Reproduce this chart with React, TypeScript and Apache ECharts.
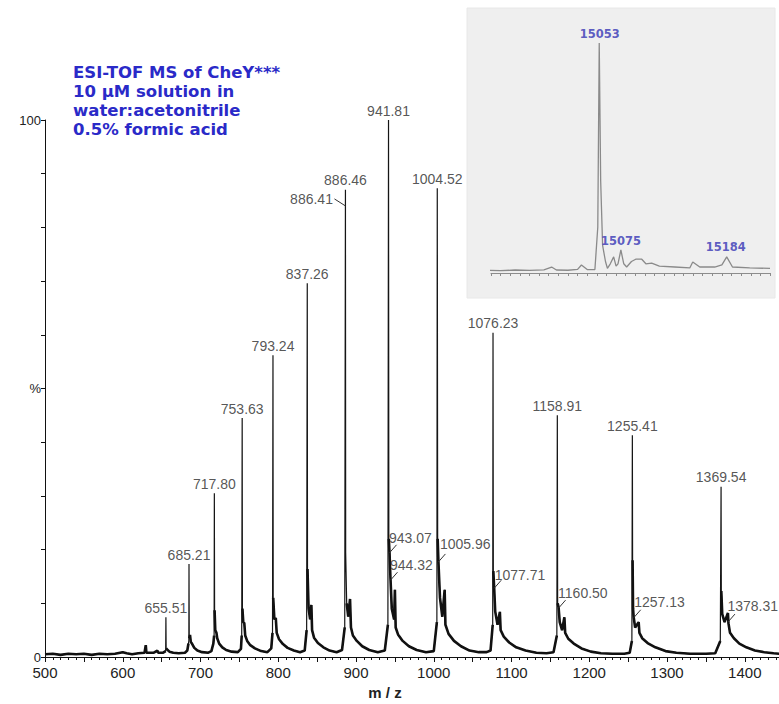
import React, { useEffect, useRef } from "react";
import * as echarts from "echarts";

// ---------- main spectrum (m/z, relative intensity %) ----------
const baseline: [number, number][] = [
  [500, 0.5], [510, 0.6], [520, 0.4], [530, 0.6], [540, 0.5], [550, 0.6], [560, 0.4], [570, 0.6],
  [580, 0.5], [590, 0.6], [600, 0.9], [605, 0.7], [612, 0.5], [620, 0.7], [628, 0.8], [629.6, 2.2],
  [630.4, 0.8], [640, 0.8], [644.6, 1.2], [645.4, 0.8], [652, 0.8],
];
const cluster655: [number, number][] = [
  [655.2, 1.1], [655.5, 7.4], [655.8, 1.6], [657, 1.4], [660, 1.0], [665, 0.8], [672, 0.7], [680, 0.8], [683, 1.2],
];
const cluster685: [number, number][] = [
  [684.5, 2.5], [685.0, 3.0], [685.2, 17.3], [685.5, 3.5], [686.5, 4.1], [687.5, 2.8], [689, 2.5],
  [692, 1.7], [696, 1.2], [702, 0.9], [710, 0.8], [714, 1.1],
];
const cluster718: [number, number][] = [
  [716.5, 2.5], [717.5, 4.0], [717.8, 30.5], [718.1, 8.7], [719, 5.0], [720.5, 4.5], [721.5, 3.5],
  [724, 2.5], [728, 1.8], [733, 1.3], [740, 1.0], [748, 0.9], [752, 1.5],
];
const cluster754: [number, number][] = [
  [753, 4.0], [753.6, 44.5], [753.9, 9.0], [755, 6.5], [756.3, 6.3], [757.5, 4.0], [760, 3.0],
  [764, 2.2], [770, 1.6], [778, 1.1], [786, 0.9], [791, 1.6],
];
const cluster793: [number, number][] = [
  [792.6, 4.5], [793.2, 56.2], [793.5, 11.0], [795, 7.0], [796.8, 7.3], [798, 4.5], [801, 3.3],
  [806, 2.4], [812, 1.7], [820, 1.2], [828, 0.9], [834, 1.2], [836.5, 5.0],
];
const cluster837: [number, number][] = [
  [837.3, 69.6], [837.6, 16.4], [839, 9.0], [841, 7.0], [842.6, 9.7], [843.5, 5.0], [846, 3.6],
  [851, 2.6], [858, 1.8], [866, 1.2], [875, 0.9], [882, 1.3], [885.5, 5.5],
];
const cluster886: [number, number][] = [
  [886.4, 87.0], [886.7, 19.4], [888, 10.0], [890, 7.5], [892.3, 10.8], [893.5, 5.5], [896, 4.0],
  [901, 3.0], [908, 2.0], [917, 1.3], [928, 0.9], [937, 1.2], [941, 6.0],
];
const cluster942: [number, number][] = [
  [941.8, 100], [942.2, 22.0], [943.1, 19.4], [944.3, 14.7], [946, 9.0], [949, 7.0], [950, 12.5],
  [951, 5.5], [954, 4.2], [960, 3.0], [968, 2.0], [978, 1.3], [990, 0.9], [1000, 1.1], [1004, 6.5],
];
const cluster1005: [number, number][] = [
  [1004.5, 87.3], [1005, 22.0], [1006, 17.7], [1008, 11.0], [1011, 7.5], [1014, 12.5], [1015, 6.0],
  [1019, 4.3], [1026, 3.0], [1035, 2.0], [1046, 1.2], [1058, 0.9], [1068, 0.9], [1073, 1.2], [1075.8, 6.0],
];
const cluster1076: [number, number][] = [
  [1076.2, 60.4], [1076.6, 16.0], [1077.7, 12.8], [1079, 8.5], [1082, 6.0], [1085, 8.4], [1086, 5.0],
  [1090, 3.8], [1097, 2.7], [1106, 1.8], [1118, 1.2], [1132, 0.8], [1145, 0.7], [1154, 0.9], [1158.3, 4.0],
];
const cluster1159: [number, number][] = [
  [1158.9, 45.0], [1159.3, 10.0], [1160.5, 9.3], [1162, 6.5], [1165, 5.0], [1168, 7.4], [1169, 4.5],
  [1173, 3.4], [1180, 2.5], [1190, 1.6], [1202, 1.0], [1215, 0.7], [1230, 0.6], [1245, 0.6], [1252, 0.8], [1254.8, 3.0],
];
const cluster1255: [number, number][] = [
  [1255.4, 41.3], [1255.7, 18.0], [1256.3, 9.0], [1257.1, 7.4], [1259, 5.5], [1263.5, 6.5], [1264.5, 4.5],
  [1268, 3.5], [1275, 2.6], [1285, 1.8], [1298, 1.1], [1312, 0.8], [1330, 0.6], [1350, 0.6], [1362, 0.7], [1368.5, 3.0],
];
const cluster1370: [number, number][] = [
  [1369.5, 31.7], [1369.8, 12.3], [1371, 8.0], [1374, 6.5], [1378.3, 8.2], [1379, 6.3], [1381, 4.5],
  [1386, 3.5], [1393, 2.5], [1402, 1.8], [1413, 1.2], [1425, 0.9], [1437, 0.7], [1445, 0.6],
];

// labelled peaks (label text above the stick)
const topLabels = ["655.51", "685.21", "717.80", "753.63", "793.24", "837.26", "886.46", "941.81",
  "1004.52", "1076.23", "1158.91", "1255.41", "1369.54"];
const topLabelPct = [7.4, 17.3, 30.5, 44.5, 56.2, 69.6, 87.0, 100, 87.3, 60.4, 45.0, 41.3, 31.7];

// labelled shoulders (label beside the stick with a leader)
const sideLabels = ["886.41", "943.07", "944.32", "1005.96", "1077.71", "1160.50", "1257.13", "1378.31"];
const sideLabelPct = [84.0, 19.4, 14.3, 17.7, 12.8, 9.1, 7.3, 6.5];

// ---------- inset: deconvoluted mass spectrum ----------
const insetProfile: [number, number][] = [
  [14936, 1.2], [14950, 1.0], [14965, 1.3], [14980, 1.1], [14995, 1.4], [15003, 2.6], [15008, 1.3],
  [15020, 1.2], [15030, 1.6], [15034, 3.5], [15040, 1.5], [15048, 1.5], [15051, 20], [15052.5, 100],
  [15054, 40], [15056, 12], [15059, 5], [15061, 2], [15064, 4], [15067.5, 7], [15070, 3],
  [15072, 4], [15075, 10], [15078, 4], [15081, 2.6], [15086, 5], [15090.4, 6], [15096.7, 6],
  [15101, 4], [15107, 4.3], [15115, 3], [15131, 2.6], [15146.6, 2.2], [15149.7, 4.8], [15157, 2.6],
  [15172.5, 2.6], [15180, 3.5], [15185, 7], [15191, 2.6], [15209, 2.2], [15230, 2.0],
];
const insetLabels = ["15053", "15075", "15184"];
const insetLabelPct = [100, 10, 7];

const titleLines = [
  "ESI-TOF MS of CheY***",
  "10 \u00b5M solution in",
  "water:acetonitrile",
  "0.5% formic acid",
];

const FONT = "Liberation Sans, Arial, Helvetica, sans-serif";
const WIDE = "DejaVu Sans, Verdana, sans-serif";

// pixel offsets of side labels relative to the point they mark
const sideOffsets: Record<string, { dx: number; dy: number; left?: boolean }> = {
  "886.41": { dx: -12, dy: -6, left: true },
  "943.07": { dx: 0, dy: -14 },
  "944.32": { dx: 0, dy: -15 },
  "1005.96": { dx: 2, dy: -17 },
  "1077.71": { dx: 1, dy: -13 },
  "1160.50": { dx: 0, dy: -15 },
  "1257.13": { dx: 1, dy: -15 },
  "1378.31": { dx: 0, dy: -16 },
};

export default function App() {
  const ref = useRef<HTMLDivElement>(null);
  useEffect(() => {
    if (!ref.current) return;
    const chart = echarts.init(ref.current, null, { renderer: "svg" });
    const profile = [
      ...baseline, ...cluster655, ...cluster685, ...cluster718, ...cluster754, ...cluster793,
      ...cluster837, ...cluster886, ...cluster942, ...cluster1005, ...cluster1076, ...cluster1159,
      ...cluster1255, ...cluster1370,
    ];
    // the dense, noisy low-intensity part of the trace; the labelled sticks stay thin
    const stickMz = topLabels.map((t) => parseFloat(t));
    const lowTrace = profile.map(([m, p]) =>
      stickMz.some((s) => Math.abs(s - m) < 0.25) ? [m, "-"] : [m, p]
    );
    const topData = topLabels.map((t, i) => ({ value: [parseFloat(t), topLabelPct[i]], name: t }));
    const sideData = sideLabels.map((t, i) => {
      const o = sideOffsets[t];
      return {
        value: [parseFloat(t), sideLabelPct[i]],
        name: t,
        label: {
          position: [o.dx, o.dy] as [number, number],
          align: o.left ? "right" : "left",
          verticalAlign: "middle",
        },
      };
    });
    const leaderData = sideLabels.map((t, i) => [parseFloat(t), sideLabelPct[i]]);
    const insetData = insetLabels.map((t, i) => ({ value: [parseFloat(t), insetLabelPct[i]], name: t }));

    chart.setOption({
      animation: false,
      backgroundColor: "#ffffff",
      textStyle: { fontFamily: FONT },
      graphic: [
        {
          type: "rect",
          z: 0,
          shape: { x: 467, y: 8, width: 308, height: 290 },
          style: { fill: "#efefef", stroke: "#e8e8e8" },
        },
        {
          type: "text",
          z: 5,
          x: 73,
          y: 63,
          style: {
            text: titleLines.join("\n"),
            font: `bold 16.5px ${WIDE}`,
            fill: "#2a2ac8",
            lineHeight: 19,
          },
        },
      ],
      grid: [
        { left: 45, right: 0, top: 120, bottom: 47, outerBoundsMode: "none", containLabel: false },
        { left: 491, top: 43, width: 279, height: 230, outerBoundsMode: "none", containLabel: false },
      ],
      xAxis: [
        {
          type: "value",
          gridIndex: 0,
          min: 500,
          max: 1444,
          interval: 50,
          name: "m / z",
          nameLocation: "middle",
          nameGap: 27,
          nameTextStyle: {
            fontFamily: FONT,
            fontSize: 15,
            fontWeight: "bold",
            color: "#222",
            padding: [0, 54, 0, 0],
          },
          axisLine: { lineStyle: { color: "#111", width: 1 } },
          axisTick: { length: 5, lineStyle: { color: "#111" } },
          minorTick: { show: true, splitNumber: 5, length: 3, lineStyle: { color: "#111" } },
          splitLine: { show: false },
          axisLabel: {
            fontFamily: FONT,
            fontSize: 15,
            color: "#222",
            margin: 8,
            formatter: (v: number) => (v % 100 === 0 ? String(v) : ""),
          },
        },
        {
          type: "value",
          gridIndex: 1,
          min: 14940,
          max: 15230,
          interval: 10,
          axisLine: { lineStyle: { color: "#8c8c8c", width: 1 } },
          axisTick: { length: 3, inside: false, lineStyle: { color: "#8c8c8c" } },
          splitLine: { show: false },
          axisLabel: { show: false },
        },
      ],
      yAxis: [
        {
          type: "value",
          gridIndex: 0,
          min: 0,
          max: 100,
          interval: 10,
          axisLine: { show: true, lineStyle: { color: "#111", width: 1 } },
          axisTick: { show: true, length: 4, lineStyle: { color: "#111" } },
          splitLine: { show: false },
          axisLabel: {
            fontFamily: FONT,
            fontSize: 13,
            color: "#222",
            margin: 4,
            formatter: (v: number) => (v === 100 ? "100" : v === 50 ? "%" : v === 0 ? "0" : ""),
          },
        },
        {
          type: "value",
          gridIndex: 1,
          min: 0,
          max: 100,
          show: false,
        },
      ],
      series: [
        {
          type: "line",
          name: "spectrum",
          xAxisIndex: 0,
          yAxisIndex: 0,
          data: profile,
          showSymbol: false,
          symbol: "none",
          lineStyle: { color: "#151515", width: 1.2 },
          z: 3,
        },
        {
          type: "line",
          name: "spectrum low part",
          xAxisIndex: 0,
          yAxisIndex: 0,
          data: lowTrace,
          connectNulls: false,
          showSymbol: false,
          symbol: "none",
          lineStyle: { color: "#111", width: 2.6 },
          z: 3,
        },
        {
          type: "scatter",
          name: "peak labels",
          xAxisIndex: 0,
          yAxisIndex: 0,
          data: topData,
          symbolSize: 1,
          itemStyle: { color: "rgba(0,0,0,0)" },
          label: {
            show: true,
            position: "top",
            distance: 2,
            formatter: (p: any) => p.name,
            fontFamily: FONT,
            fontSize: 14,
            color: "#2a2a2a",
          },
          z: 4,
        },
        {
          type: "scatter",
          name: "shoulder labels",
          xAxisIndex: 0,
          yAxisIndex: 0,
          data: sideData,
          symbolSize: 1,
          itemStyle: { color: "rgba(0,0,0,0)" },
          label: {
            show: true,
            formatter: (p: any) => p.name,
            fontFamily: FONT,
            fontSize: 14,
            color: "#2a2a2a",
          },
          z: 4,
        },
        {
          type: "custom",
          name: "leaders",
          xAxisIndex: 0,
          yAxisIndex: 0,
          data: leaderData,
          z: 4,
          renderItem: (params: any, api: any) => {
            const p = api.coord([api.value(0), api.value(1)]);
            const t = sideLabels[params.dataIndex];
            const o = sideOffsets[t];
            const x2 = o.left ? p[0] - 11 : p[0] + 7;
            const y2 = o.left ? p[1] - 7 : p[1] - 8;
            return {
              type: "line",
              shape: { x1: p[0], y1: p[1], x2, y2 },
              style: { stroke: "#333", lineWidth: 1 },
            };
          },
        },
        {
          type: "line",
          name: "inset",
          xAxisIndex: 1,
          yAxisIndex: 1,
          data: insetProfile,
          showSymbol: false,
          symbol: "none",
          lineStyle: { color: "#8a8a8a", width: 1.3 },
          z: 3,
        },
        {
          type: "scatter",
          name: "inset labels",
          xAxisIndex: 1,
          yAxisIndex: 1,
          data: insetData,
          symbolSize: 1,
          itemStyle: { color: "rgba(0,0,0,0)" },
          label: {
            show: true,
            position: "top",
            distance: 3,
            formatter: (p: any) => p.name,
            fontFamily: WIDE,
            fontSize: 11.5,
            fontWeight: "bold",
            color: "#3535b5",
          },
          z: 4,
        },
      ],
    });
    return () => chart.dispose();
  }, []);
  return (
    <div
      ref={ref}
      style={{ position: "absolute", left: 0, top: 0, width: 779, height: 704, background: "#fff" }}
    />
  );
}
